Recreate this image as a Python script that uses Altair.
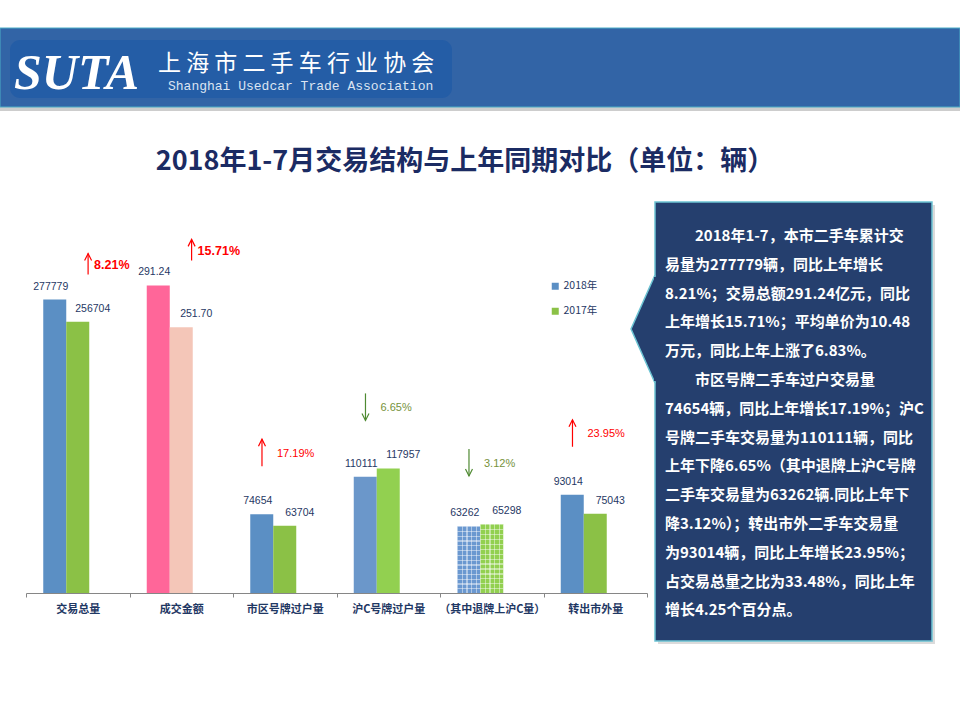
import altair as alt
import pandas as pd

# ---------------- data ----------------
categories = ['交易总量', '成交金额', '市区号牌过户量', '沪C号牌过户量', '（其中退牌上沪C量）', '转出市外量']
series = ['2018年', '2017年']
v2018 = [277779, 291.24, 74654, 110111, 63262, 93014]
v2017 = [256704, 251.70, 63704, 117957, 65298, 75043]
pct_text = ['8.21%', '15.71%', '17.19%', '6.65%', '3.12%', '23.95%']
pct_dir = ['up', 'up', 'up', 'down', 'down', 'up']

title_text = '2018年1-7月交易结构与上年同期对比（单位：辆）'
IND = '\u200b\u3000\u3000'
box_lines = [
    IND + '2018年1-7，本市二手车累计交',
    '易量为277779辆，同比上年增长',
    '8.21%；交易总额291.24亿元，同比',
    '上年增长15.71%；平均单价为10.48',
    '万元，同比上年上涨了6.83%。',
    IND + '市区号牌二手车过户交易量',
    '74654辆，同比上年增长17.19%；沪C',
    '号牌二手车交易量为110111辆，同比',
    '上年下降6.65%（其中退牌上沪C号牌',
    '二手车交易量为63262辆.同比上年下',
    '降3.12%）；转出市外二手车交易量',
    '为93014辆，同比上年增长23.95%；',
    '占交易总量之比为33.48%，同比上年',
    '增长4.25个百分点。',
]

amount_cat = categories[1]
variant = {categories[1]: '金额', categories[3]: '沪C', categories[4]: '退牌'}

rows = []
for i, c in enumerate(categories):
    for s, vals in zip(series, [v2018, v2017]):
        v = vals[i]
        is_amt = (c == amount_cat)
        rows.append(dict(
            category=c, series=s, value=v,
            pv=v * 1000 if is_amt else v,
            label=f'{v:.2f}' if is_amt else f'{int(v)}',
            ckey=s + variant.get(c, ''),
        ))
df = pd.DataFrame(rows)

ann = pd.DataFrame({'category': categories, 'pct': pct_text, 'dir': pct_dir})
ann['top'] = [df.loc[df['category'] == c, 'pv'].max() for c in categories]
ann['emph'] = [i < 2 for i in range(len(categories))]

# ---------------- layout ----------------
L, T = 26, 255          # plot-area origin on the 960x720 page
W, H = 621, 338
def X(px): return alt.value(px - L)
def Y(py): return alt.value(py - T)

one = pd.DataFrame({'a': [1]})

NAVY = '#1f3864'
BOX = '#253f6e'

ckey_domain = ['2018年', '2017年', '2018年金额', '2017年金额', '2018年沪C', '2017年沪C', '2018年退牌', '2017年退牌']
ckey_range = ['#5b8fc4', '#8bc146', '#ff6699', '#f4c6b8', '#6b97ca', '#92d050', '#6a98d0', '#92d050']

x_scale = alt.Scale(paddingInner=0, paddingOuter=0)
x_axis = alt.Axis(title=None, labelAngle=0, domainColor='#868686', tickColor='#868686',
                  tickSize=4, tickBand='extent', labelFont='Noto Sans CJK SC',
                  labelFontWeight='bold', labelFontSize=11, labelColor=NAVY,
                  labelPadding=6, domainWidth=1)
x_enc = alt.X('category:N', sort=categories, scale=x_scale, axis=x_axis)
xo_scale = alt.Scale(domain=['2018年', '2017年', '—'], paddingInner=0, paddingOuter=0.75)
y_scale = alt.Scale(domain=[0, 320000], nice=False)
y_enc = alt.Y('pv:Q', scale=y_scale, axis=None)

# ---------------- decorations ----------------
rect = lambda: alt.Chart(one)
banner_shadow = rect().mark_rect(fill='#b8b8b8', opacity=0.7).encode(
    x=X(0), x2=X(960), y=Y(107), y2=Y(111))
banner = rect().mark_rect(fill='#3264a6', stroke='#4bacc6', strokeWidth=1).encode(
    x=X(0), x2=X(960), y=Y(28), y2=Y(107))
logo_bg = rect().mark_rect(fill='#1a58a7', cornerRadius=10, opacity=0.6).encode(
    x=X(10), x2=X(452), y=Y(40), y2=Y(98))
suta = rect().mark_text(text='SUTA', font='Liberation Serif', fontSize=50, fontWeight='bold',
                        fontStyle='italic', color='white', align='left', baseline='alphabetic').encode(
    x=X(14), y=Y(89))
cn_name = rect().mark_text(text='上 海 市 二 手 车 行 业 协 会', font='Noto Sans CJK SC', fontSize=23,
                           color='white', align='left', baseline='middle').encode(
    x=X(158), y=Y(64))
en_name = rect().mark_text(text='Shanghai Usedcar Trade Association', font='Liberation Mono',
                           fontSize=13, color='#dbe4f2', align='left', baseline='middle').encode(
    x=X(168), y=Y(86))
title = rect().mark_text(text=title_text, font='Noto Sans CJK SC', fontSize=27, fontWeight='bold',
                         color='#1b2b63', align='center', baseline='middle').encode(
    x=X(465), y=Y(162))

box_shadow = rect().mark_rect(fill='#b0b0b0', opacity=0.45).encode(
    x=X(658), x2=X(935), y=Y(205), y2=Y(644))
box = rect().mark_rect(fill=BOX, stroke='#6cc3d3', strokeWidth=1.5).encode(
    x=X(655), x2=X(932), y=Y(202), y2=Y(641))
callout = rect().mark_point(shape='M0,-1L-0.444,0L0,1', size=11664, filled=True, fill=BOX,
                            stroke='#6cc3d3', strokeWidth=1.5, opacity=1).encode(
    x=X(655), y=Y(329))
callout_cover = rect().mark_rule(color=BOX, strokeWidth=3).encode(
    x=X(655.5), y=Y(277), y2=Y(381))
box_text = rect().mark_text(font='Noto Sans CJK SC', fontSize=15, fontWeight='bold', color='white',
                            align='left', baseline='top', lineHeight=28.8).encode(
    x=X(665), y=Y(229), text=alt.value(box_lines))

# ---------------- bar chart ----------------
base = alt.Chart(df)
bars = base.mark_bar().encode(
    x=x_enc,
    xOffset=alt.XOffset('series:N', scale=xo_scale),
    y=y_enc,
    color=alt.Color('ckey:N', scale=alt.Scale(domain=ckey_domain, range=ckey_range),
                    legend=alt.Legend(values=series, title=None, orient='none', legendX=524, legendY=26,
                                      symbolType='square', symbolSize=49, symbolStrokeWidth=0,
                                      labelFont='Noto Sans CJK SC', labelFontSize=10.5, labelColor=NAVY,
                                      rowPadding=14, padding=0, labelOffset=3)),
)

def stripes(n, vertical, frac=0.25, alpha=0.45):
    on = f'rgba(255,255,255,{alpha})'
    off = 'rgba(255,255,255,0)'
    stops = []
    for k in range(n):
        a = k / n
        b = (k + frac) / n
        c = (k + 1) / n
        stops += [dict(offset=a, color=on), dict(offset=b, color=on),
                  dict(offset=b, color=off), dict(offset=c, color=off)]
    return dict(gradient='linear', stops=stops, x1=0, y1=0, x2=0 if vertical else 1, y2=1 if vertical else 0)

tex_h = base.transform_filter(alt.datum.category == categories[4]).mark_bar(fill=stripes(14, True)).encode(
    x=x_enc, xOffset=alt.XOffset('series:N', scale=xo_scale), y=y_enc)
tex_v = base.transform_filter(alt.datum.category == categories[4]).mark_bar(fill=stripes(5, False)).encode(
    x=x_enc, xOffset=alt.XOffset('series:N', scale=xo_scale), y=y_enc)

lab_style = dict(font='Liberation Sans', fontSize=10.5, color=NAVY, baseline='middle', align='center')
lab18 = base.transform_filter(alt.datum.series == series[0]).mark_text(dx=-4, dy=-13, **lab_style).encode(
    x=x_enc, xOffset=alt.XOffset('series:N', scale=xo_scale), y=y_enc, text='label:N')
lab17 = base.transform_filter(alt.datum.series == series[1]).mark_text(dx=15, dy=-13, **lab_style).encode(
    x=x_enc, xOffset=alt.XOffset('series:N', scale=xo_scale), y=y_enc, text='label:N')

# ---------------- change annotations ----------------
abase = alt.Chart(ann)
dir_stroke = alt.Stroke('dir:N', scale=alt.Scale(domain=['up', 'down'], range=['#ff0000', '#4f8a32']), legend=None)
dir_fill = alt.Fill('dir:N', scale=alt.Scale(domain=['up', 'down'], range=['#ff0000', '#76923c']), legend=None)
ann_y = alt.Y('top:Q', scale=y_scale, axis=None)

def annotations(emph, band_pos, low, length, text_dx, text_style):
    sub = abase.transform_filter(alt.datum.emph == emph)
    ax = alt.X('category:N', sort=categories, scale=x_scale, axis=x_axis, bandPosition=band_pos)
    hi = low - length
    mid = (low + hi) / 2
    shaft = sub.mark_rule(yOffset=low, y2Offset=hi, strokeWidth=1.2).encode(
        x=ax, y=ann_y, y2='top:Q', stroke=dir_stroke)
    up = sub.transform_filter(alt.datum.dir == 'up').mark_point(
        shape='M-1,2L0,0L1,2', size=49, filled=False, strokeWidth=1.2, yOffset=hi, opacity=1).encode(
        x=ax, y=ann_y, stroke=dir_stroke)
    dn = sub.transform_filter(alt.datum.dir == 'down').mark_point(
        shape='M-1,-2L0,0L1,-2', size=49, filled=False, strokeWidth=1.2, yOffset=low, opacity=1).encode(
        x=ax, y=ann_y, stroke=dir_stroke)
    txt = sub.mark_text(align='left', baseline='middle', yOffset=mid + 1, dx=text_dx,
                        font='Liberation Sans', **text_style).encode(
        x=ax, y=ann_y, text='pct:N', fill=dir_fill)
    return [shaft, up, dn, txt]

ann_big = annotations(True, 0.6, -25, 21, 6, dict(fontSize=12.5, fontWeight='bold'))
ann_small = annotations(False, 0.28, -48, 27, 15, dict(fontSize=11))

chart = alt.layer(
    banner_shadow, banner, logo_bg, suta, cn_name, en_name, title,
    box_shadow, box, callout, callout_cover, box_text,
    bars, tex_h, tex_v, lab18, lab17,
    *ann_big, *ann_small,
).properties(
    width=W, height=H, autosize='none',
    padding={'left': L, 'top': T, 'right': 960 - L - W, 'bottom': 720 - T - H},
    background='white',
).configure_view(stroke=None)

chart.save('out.html', embed_options={'renderer': 'svg', 'actions': False})
